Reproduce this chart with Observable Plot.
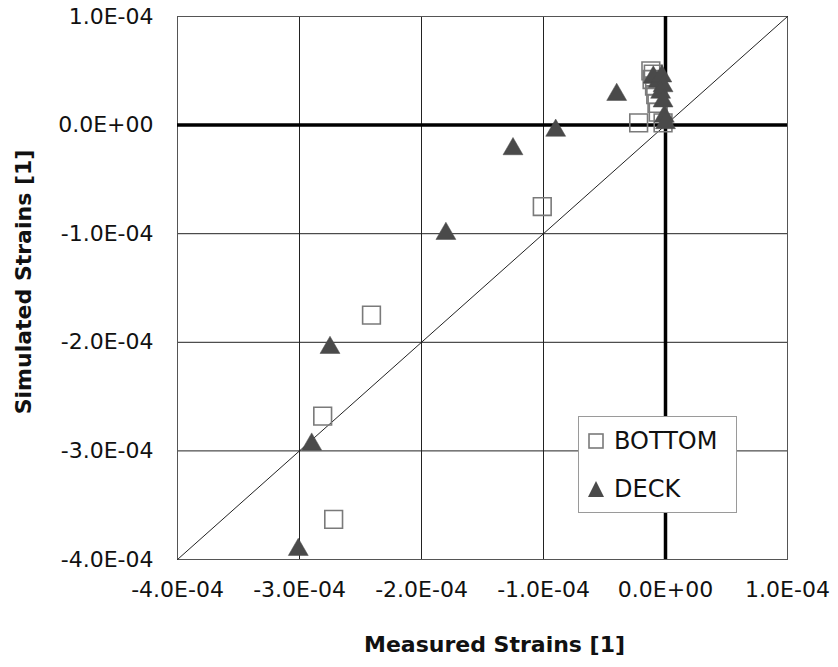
<!DOCTYPE html>
<html>
<head>
<meta charset="utf-8">
<script src="https://cdn.jsdelivr.net/npm/d3@7"></script>
<script src="https://cdn.jsdelivr.net/npm/@observablehq/plot@0.6"></script>
<style>
  html, body { margin: 0; padding: 0; background: #fff; }
  #wrap { position: relative; width: 838px; height: 667px; }
  #legend {
    position: absolute; left: 578px; top: 416px; width: 159px; height: 97px;
    border: 1px solid #9a9a9a; background: #fff; box-sizing: border-box;
    font-family: "DejaVu Sans", Verdana, sans-serif; font-size: 24px; color: #111;
  }
  .lg-row { position: absolute; left: 8px; display: flex; align-items: center; }
  .lg-row span { margin-left: 9px; }
</style>
</head>
<body>
<div id="wrap">
  <div id="chart"></div>
  <div id="legend"></div>
</div>
<script>
// ---- data ----
const seriesNames = ["BOTTOM", "DECK"];

const bottomMeasured = [-1.01e-4, -0.22e-4, -2.41e-4, -2.81e-4, -2.72e-4,
  -0.12e-4, -0.10e-4, -0.11e-4, -0.09e-4, -0.08e-4, -0.07e-4, -0.06e-4, -0.02e-4];
const bottomSimulated = [-0.75e-4, 0.02e-4, -1.75e-4, -2.68e-4, -3.63e-4,
  0.50e-4, 0.47e-4, 0.42e-4, 0.36e-4, 0.28e-4, 0.20e-4, 0.12e-4, 0.02e-4];

const deckMeasured = [-0.40e-4, -0.90e-4, -1.25e-4, -1.80e-4, -2.75e-4, -2.90e-4, -3.01e-4,
  -0.10e-4, -0.06e-4, -0.03e-4, -0.02e-4, -0.04e-4, -0.02e-4, -0.01e-4, 0.0];
const deckSimulated = [0.28e-4, -0.05e-4, -0.22e-4, -1.00e-4, -2.05e-4, -2.94e-4, -3.91e-4,
  0.44e-4, 0.40e-4, 0.45e-4, 0.36e-4, 0.30e-4, 0.22e-4, 0.08e-4, 0.02e-4];

const tickValues = [-4e-4, -3e-4, -2e-4, -1e-4, 0, 1e-4];
const tickLabels = ["-4.0E-04", "-3.0E-04", "-2.0E-04", "-1.0E-04", "0.0E+00", "1.0E-04"];
const xLabel = "Measured Strains [1]";
const yLabel = "Simulated Strains [1]";

// ---- build tables ----
const bottom = bottomMeasured.map((x, i) => ({x, y: bottomSimulated[i]}));
const deck = deckMeasured.map((x, i) => ({x, y: deckSimulated[i]}));
const domain = [tickValues[0], tickValues[tickValues.length - 1]];
const diag = domain.map(v => ({x: v, y: v}));
const fmt = d => tickLabels[tickValues.findIndex(t => Math.abs(t - d) < 1e-9)];

const chart = Plot.plot({
  width: 838,
  height: 667,
  marginLeft: 177,
  marginRight: 51,
  marginTop: 16,
  marginBottom: 108,
  style: {fontFamily: "'DejaVu Sans', Verdana, sans-serif", fontSize: "22px", color: "#111", background: "#fff"},
  x: {domain, ticks: tickValues},
  y: {domain, ticks: tickValues},
  marks: [
    Plot.gridX(tickValues, {stroke: "#222", strokeOpacity: 1, strokeWidth: 1}),
    Plot.gridY(tickValues, {stroke: "#222", strokeOpacity: 1, strokeWidth: 1}),
    Plot.frame({stroke: "#555", strokeWidth: 1}),
    Plot.line(diag, {x: "x", y: "y", stroke: "#222", strokeWidth: 1}),
    Plot.ruleX([0], {stroke: "#000", strokeWidth: 3.5}),
    Plot.ruleY([0], {stroke: "#000", strokeWidth: 3.5}),
    Plot.axisX(tickValues, {tickSize: 0, tickPadding: 22, tickFormat: fmt, label: null, fill: "#111", fontSize: 22}),
    Plot.axisY(tickValues, {tickSize: 0, tickPadding: 24, tickFormat: fmt, label: null, fill: "#111", fontSize: 22}),
    Plot.dot(bottom, {x: "x", y: "y", symbol: "square", r: 10, stroke: "#7a7a7a", strokeWidth: 1.6, fill: "none"}),
    Plot.dot(deck, {x: "x", y: "y", symbol: "triangle", r: 7.4, fill: "#4a4a4a", stroke: "#4a4a4a", strokeWidth: 0.5}),
    Plot.text([xLabel], {frameAnchor: "bottom", dy: 92, dx: 12, textAnchor: "middle", text: d => d, fontWeight: "bold", fontSize: 22, fill: "#111"}),
    Plot.text([yLabel], {frameAnchor: "left", dx: -154, dy: -6, textAnchor: "middle", rotate: -90, text: d => d, fontWeight: "bold", fontSize: 22, fill: "#111"})
  ]
});
document.getElementById("chart").appendChild(chart);

// ---- legend ----
const legend = document.getElementById("legend");
const swatches = {
  BOTTOM: '<svg width="18" height="18"><rect x="2" y="2" width="14" height="14" fill="none" stroke="#7a7a7a" stroke-width="1.6"/></svg>',
  DECK: '<svg width="18" height="18"><path d="M9,1 L17,17 L1,17 Z" fill="#4a4a4a"/></svg>'
};
seriesNames.forEach((name, i) => {
  const row = document.createElement("div");
  row.className = "lg-row";
  row.style.top = (i === 0 ? 10 : 58) + "px";
  row.innerHTML = swatches[name] + "<span>" + name + "</span>";
  legend.appendChild(row);
});
</script>
</body>
</html>
